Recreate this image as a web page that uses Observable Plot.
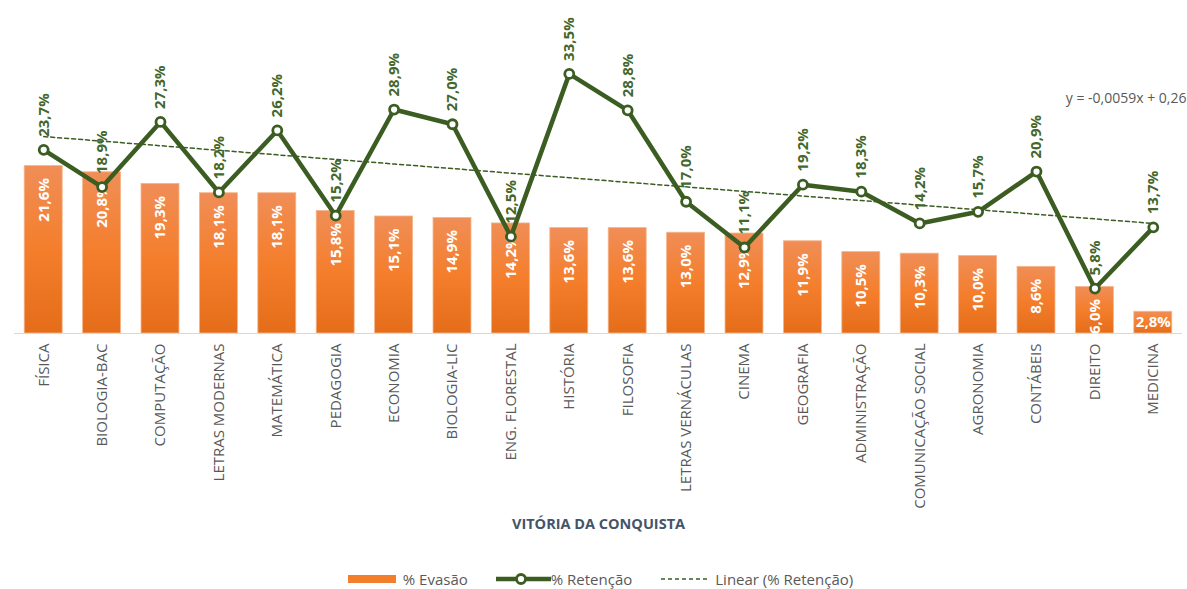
<!DOCTYPE html>
<html>
<head>
<meta charset="utf-8">
<script src="https://cdn.jsdelivr.net/npm/d3@7"></script>
<script src="https://cdn.jsdelivr.net/npm/@observablehq/plot@0.6"></script>
<style>
  html, body { margin: 0; padding: 0; background: #ffffff; }
  body { width: 1187px; height: 589px; overflow: hidden; font-family: "Open Sans", sans-serif; }
  #legend { display: flex; justify-content: center; align-items: center; height: 20px; margin-top: 14px; padding-left: 14px;
            font-size: 15px; color: #595959; }
  #legend .item { display: flex; align-items: center; }
  #legend svg { display: block; }
</style>
</head>
<body>
<div id="chart"></div>
<div id="legend"></div>
<script>
// ---- data ----
const courses = ["FÍSICA","BIOLOGIA-BAC","COMPUTAÇÃO","LETRAS MODERNAS","MATEMÁTICA","PEDAGOGIA","ECONOMIA","BIOLOGIA-LIC","ENG. FLORESTAL","HISTÓRIA","FILOSOFIA","LETRAS VERNÁCULAS","CINEMA","GEOGRAFIA","ADMINISTRAÇÃO","COMUNICAÇÃO SOCIAL","AGRONOMIA","CONTÁBEIS","DIREITO","MEDICINA"];
const evasao   = [21.6,20.8,19.3,18.1,18.1,15.8,15.1,14.9,14.2,13.6,13.6,13.0,12.9,11.9,10.5,10.3,10.0,8.6,6.0,2.8];
const retencao = [23.7,18.9,27.3,18.2,26.2,15.2,28.9,27.0,12.5,33.5,28.8,17.0,11.1,19.2,18.3,14.2,15.7,20.9,5.8,13.7];
// Excel linear trendline of % Retenção (x = 1..20), in fractions
const trendSlope = -0.0059;
const trendIntercept = 0.26;
const trendLabel = "y = -0,0059x + 0,26";
const axisTitle = "VITÓRIA DA CONQUISTA";
const legendLabels = ["% Evasão", "% Retenção", "Linear (% Retenção)"];

// ---- table ----
const rows = courses.map((c, i) => ({
  course: c,
  evasao: evasao[i],
  retencao: retencao[i],
  trend: (trendIntercept + trendSlope * (i + 1)) * 100
}));
const fmt = v => v.toFixed(1).replace(".", ",") + "%";

const green = "#3B5D22";
const labelGreen = "#44672B";
const font = "'Open Sans', sans-serif";

const chart = Plot.plot({
  width: 1187,
  height: 555,
  marginTop: 23,
  marginBottom: 222,
  marginLeft: 14,
  marginRight: 5,
  style: { fontFamily: font, fontSize: "15px", color: "#595959", background: "#ffffff" },
  x: { domain: courses, round: false, paddingInner: 0.35, paddingOuter: 0.175, tickRotate: -90, tickSize: 0, tickPadding: 10, label: null },
  y: { domain: [0, 40], axis: null },
  marks: [
    Plot.barY(rows, { x: "course", y: "evasao", fill: "url(#evasaoGrad)", stroke: "#F5B48A", strokeWidth: 0.8 }),
    Plot.ruleY([0], { stroke: "#D9D9D9", strokeWidth: 1.2 }),
    Plot.text(rows.filter(d => d.evasao >= 3), { x: "course", y: "evasao", text: d => fmt(d.evasao), rotate: -90, textAnchor: "end", lineAnchor: "middle", dy: 12, fill: "#ffffff", fontWeight: "bold", fontSize: 15 }),
    Plot.text(rows.filter(d => d.evasao < 3), { x: "course", y: "evasao", text: d => fmt(d.evasao), textAnchor: "middle", lineAnchor: "middle", dy: 10, fill: "#ffffff", fontWeight: "bold", fontSize: 15 }),
    Plot.line(rows, { x: "course", y: "trend", stroke: green, strokeWidth: 1.5, strokeDasharray: "4,3" }),
    Plot.line(rows, { x: "course", y: "retencao", stroke: green, strokeWidth: 4.5, strokeLinejoin: "round" }),
    Plot.dot(rows, { x: "course", y: "retencao", r: 4.5, fill: "#ffffff", stroke: green, strokeWidth: 2.8 }),
    Plot.text(rows, { x: "course", y: "retencao", text: d => fmt(d.retencao), rotate: -90, textAnchor: "start", lineAnchor: "middle", dy: -13, fill: labelGreen, fontWeight: "bold", fontSize: 15 }),
    Plot.text([trendLabel], { frameAnchor: "top-right", dx: 4, dy: 70, textAnchor: "end", fill: "#595959", fontSize: 14 }),
    Plot.text([axisTitle], { frameAnchor: "bottom", dy: 195, fill: "#44546A", fontWeight: "bold", fontSize: 14.5 })
  ]
});

// gradient for bars (per bar, top lighter)
const defs = d3.select(chart).insert("defs", ":first-child");
const g = defs.append("linearGradient").attr("id", "evasaoGrad").attr("x1", 0).attr("y1", 0).attr("x2", 0).attr("y2", 1);
g.append("stop").attr("offset", "0%").attr("stop-color", "#F08E57");
g.append("stop").attr("offset", "50%").attr("stop-color", "#F47E2C");
g.append("stop").attr("offset", "100%").attr("stop-color", "#E56D1A");

document.getElementById("chart").appendChild(chart);

// ---- legend ----
const legend = d3.select("#legend");
const i1 = legend.append("div").attr("class", "item");
const s1 = i1.append("svg").attr("width", 48).attr("height", 10);
s1.append("rect").attr("x", 0).attr("y", 1).attr("width", 48).attr("height", 8).attr("fill", "#F27F2C");
i1.append("span").style("margin-left", "7px").text(legendLabels[0]);

const i2 = legend.append("div").attr("class", "item").style("margin-left", "28px");
const s2 = i2.append("svg").attr("width", 55).attr("height", 14);
s2.append("line").attr("x1", 0).attr("x2", 55).attr("y1", 7).attr("y2", 7).attr("stroke", green).attr("stroke-width", 4.5);
s2.append("circle").attr("cx", 25).attr("cy", 7).attr("r", 4.5).attr("fill", "#fff").attr("stroke", green).attr("stroke-width", 2.8);
i2.append("span").style("margin-left", "0px").text(legendLabels[1]);

const i3 = legend.append("div").attr("class", "item").style("margin-left", "29px");
const s3 = i3.append("svg").attr("width", 48).attr("height", 6);
s3.append("line").attr("x1", 0).attr("x2", 48).attr("y1", 3).attr("y2", 3).attr("stroke", green).attr("stroke-width", 1.5).attr("stroke-dasharray", "4,3");
i3.append("span").style("margin-left", "6px").text(legendLabels[2]);
</script>
</body>
</html>
